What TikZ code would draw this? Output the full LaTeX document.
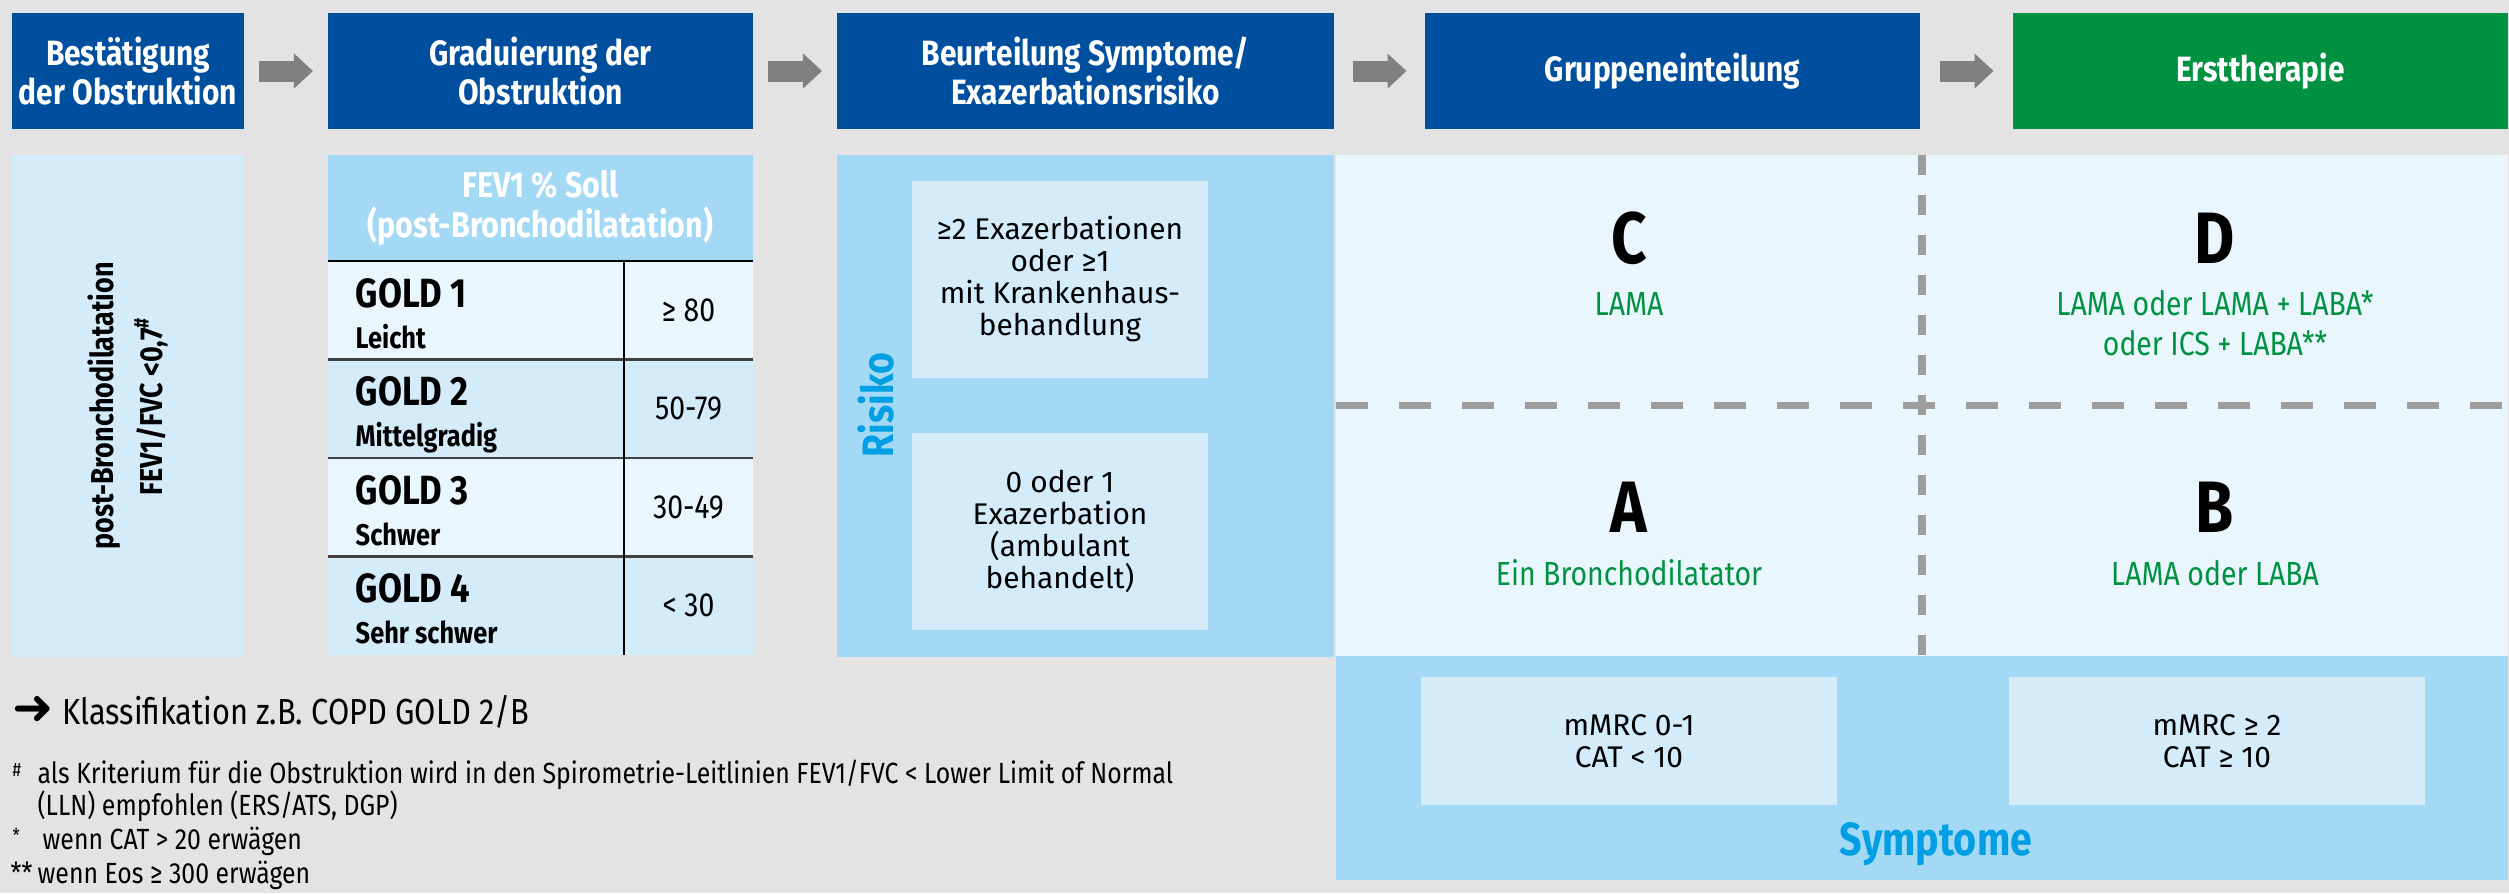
\documentclass[tikz,border=0pt]{standalone}
\usepackage{fontspec}
\setmainfont{Fira Sans}[FakeStretch=0.85]
\newfontfamily\boxfont{Fira Sans}
\newfontfamily\symfont{DejaVu Sans}
\usetikzlibrary{arrows.meta,calc}
\definecolor{hdrblue}{HTML}{004F9F}
\definecolor{thgreen}{HTML}{009241}
\definecolor{panelblue}{HTML}{A3D9F5}
\definecolor{midblue}{HTML}{D4ECFA}
\definecolor{paleblue}{HTML}{E9F6FD}
\definecolor{labelcyan}{HTML}{009FE3}
\definecolor{bggray}{HTML}{E3E3E3}
\definecolor{arrowgray}{HTML}{808080}
\definecolor{dashgray}{HTML}{9D9D9D}
\begin{document}
\begin{tikzpicture}
        [
            x = 0.01cm, y = -0.01cm,
            box/.style = {rectangle, inner sep=0pt, outer sep=0pt},
            hdr/.style = {box, fill=hdrblue, text=white, align=center, minimum height=1.16cm,
                font=\bfseries\fontsize{10}{9.1}\selectfont},
            stepper/.style = {draw=arrowgray, line width=0.21cm, -{Triangle[length=0.19cm, width=0.34cm]}},
            infobox/.style = {box, fill=midblue, align=center, font=\boxfont\fontsize{8.5}{9.1}\selectfont},
            therapytext/.style = {text=thgreen, align=center, font=\fontsize{9.5}{11.4}\selectfont},
            quadrant/.style = {font=\bfseries\fontsize{20.7}{22}\selectfont},
            axislabel/.style = {text=labelcyan, font=\bfseries\fontsize{12.5}{14}\selectfont},
            divider/.style = {draw=dashgray, line width=0.075cm},
            rowline/.style = {draw=black!75, line width=0.6pt},
            note/.style = {anchor=base west, inner sep=0pt, font=\fontsize{8.3}{9}\selectfont},
        ]
        \useasboundingbox (0,0) rectangle (2509,893);
        \fill[bggray] (0,0) rectangle (2509,893);

        \node[hdr, minimum width=2.32cm] (confirm) at (128,71) {Bestätigung\\der Obstruktion};
        \node[hdr, minimum width=4.25cm] (grade) at (540.5,71) {Graduierung der\\Obstruktion};
        \node[hdr, minimum width=4.97cm] (assess) at (1085.5,71) {Beurteilung Symptome/\\Exazerbationsrisiko};
        \node[hdr, minimum width=4.95cm] (group) at (1672.5,71) {Gruppeneinteilung};
        \node[hdr, fill=thgreen, minimum width=4.95cm] (therapy) at (2260.5,71) {Ersttherapie};
        \foreach \a/\b in {confirm/grade, grade/assess, assess/group, group/therapy}
            \draw[stepper] ($(\a.east)!.5!(\b.west)+(-27,0)$) -- ($(\a.east)!.5!(\b.west)+(27,0)$);

        \node[box, fill=midblue, minimum width=2.32cm, minimum height=5.02cm] (ratio) at (128,406) {};
        \node[rotate=90, align=center, font=\bfseries\fontsize{9}{13.7}\selectfont] (ratiotext) at (ratio)
            {post-Bronchodilatation\\FEV1/FVC <0,7\textsuperscript{\#}};

        \node[box, fill=panelblue, minimum width=4.25cm, minimum height=1.06cm, text=white, align=center,
            font=\bfseries\fontsize{10.2}{11.4}\selectfont] (fevhead) at (540.5,208)
            {FEV1 \% Soll\\(post-Bronchodilatation)};
        \foreach \sub/\val/\col [count=\i] in {Leicht/{≥ 80}/paleblue, Mittelgradig/50-79/midblue,
            Schwer/30-49/paleblue, Sehr schwer/{< 30}/midblue}
        {
            \node[box, fill=\col, minimum width=2.96cm, minimum height=0.985cm, anchor=north west]
                (gold\i) at (328,{261+98.5*(\i-1)}) {};
            \node[box, fill=\col, minimum width=1.29cm, minimum height=0.985cm, anchor=north west,
                font=\fontsize{9.5}{11}\selectfont] (fev\i) at (624,{261+98.5*(\i-1)}) {\val};
            \node[anchor=base west, inner sep=0pt, font=\bfseries\fontsize{11.6}{12}\selectfont]
                (goldname\i) at ([xshift=0.27cm, yshift=-0.46cm]gold\i.north west) {GOLD \i};
            \node[anchor=base west, inner sep=0pt, font=\bfseries\fontsize{8.5}{10}\selectfont]
                (goldsub\i) at ([xshift=0.27cm, yshift=-0.87cm]gold\i.north west) {\sub};
        }
        \draw[rowline, draw=black] (gold1.north west) -- (fev1.north east);
        \foreach \i in {2,3,4}
            \draw[rowline] (gold\i.north west) -- (fev\i.north east);
        \draw[rowline, draw=black] (fev1.north west) -- (fev4.south west);

        \node[box, fill=panelblue, minimum width=4.97cm, minimum height=5.02cm] (risk) at (1085.5,406) {};
        \node[infobox, minimum width=2.96cm, minimum height=1.97cm] (riskhigh) at (1060,279.5)
            {≥2 Exazerbationen\\oder ≥1\\mit Krankenhaus-\\behandlung};
        \node[infobox, minimum width=2.96cm, minimum height=1.97cm] (risklow) at (1060,531.5)
            {0 oder 1\\Exazerbation\\(ambulant\\behandelt)};
        \node[axislabel, rotate=90] (risklabel) at (876,405) {Risiko};

        \node[box, fill=paleblue, minimum width=11.72cm, minimum height=5.01cm] (grid) at (1922,405.5) {};
        \node[box, fill=panelblue, minimum width=11.72cm, minimum height=2.24cm] (symp) at (1922,768) {};
        \draw[divider, dash pattern=on 0.32cm off 0.31cm] (grid.west) -- (grid.east);
        \draw[divider, dash pattern=on 0.2cm off 0.2cm] (grid.north) -- (grid.south);

        \node[quadrant] (quadC) at (1629,238) {C};
        \node[quadrant] (quadD) at (2215,238) {D};
        \node[quadrant] (quadA) at (1629,507) {A};
        \node[quadrant] (quadB) at (2215,507) {B};
        \node[therapytext, anchor=base] (drugC) at (1629,315) {LAMA};
        \node[therapytext] (drugD) at (2215,323) {LAMA oder LAMA + LABA*\\oder ICS + LABA**};
        \node[therapytext, anchor=base] (drugA) at (1629,585) {Ein Bronchodilatator};
        \node[therapytext, anchor=base] (drugB) at (2215,585) {LAMA oder LABA};

        \node[infobox, minimum width=4.16cm, minimum height=1.28cm] (symlow) at (1629,741) {mMRC 0-1\\CAT < 10};
        \node[infobox, minimum width=4.16cm, minimum height=1.28cm] (symhigh) at (2217,741) {mMRC ≥ 2\\CAT ≥ 10};
        \node[axislabel, anchor=base, font=\bfseries\fontsize{13.2}{14}\selectfont] (symlabel) at (1936,855) {Symptome};

        \node[anchor=base west, inner sep=0pt, font=\fontsize{10.3}{12}\selectfont] (classify) at (12,724)
            {{\symfont\fontsize{14}{14}\selectfont ➜} Klassifikation z.B. COPD GOLD 2/B};
        \node[note, font=\fontsize{5.5}{6}\selectfont] (hashmark) at (12,776) {\#};
        \node[note] (hashnoteA) at (37,783) {als Kriterium für die Obstruktion wird in den Spirometrie-Leitlinien FEV1/FVC < Lower Limit of Normal};
        \node[note] (hashnoteB) at (37,815) {(LLN) empfohlen (ERS/ATS, DGP)};
        \node[note, font=\fontsize{5.5}{6}\selectfont] (starmark) at (12,842) {*};
        \node[note] (starnote) at (42,849) {wenn CAT > 20 erwägen};
        \node[note] (starsmark) at (10,883) {**};
        \node[note] (starsnote) at (37,883) {wenn Eos ≥ 300 erwägen};
    \end{tikzpicture}
\end{document}
